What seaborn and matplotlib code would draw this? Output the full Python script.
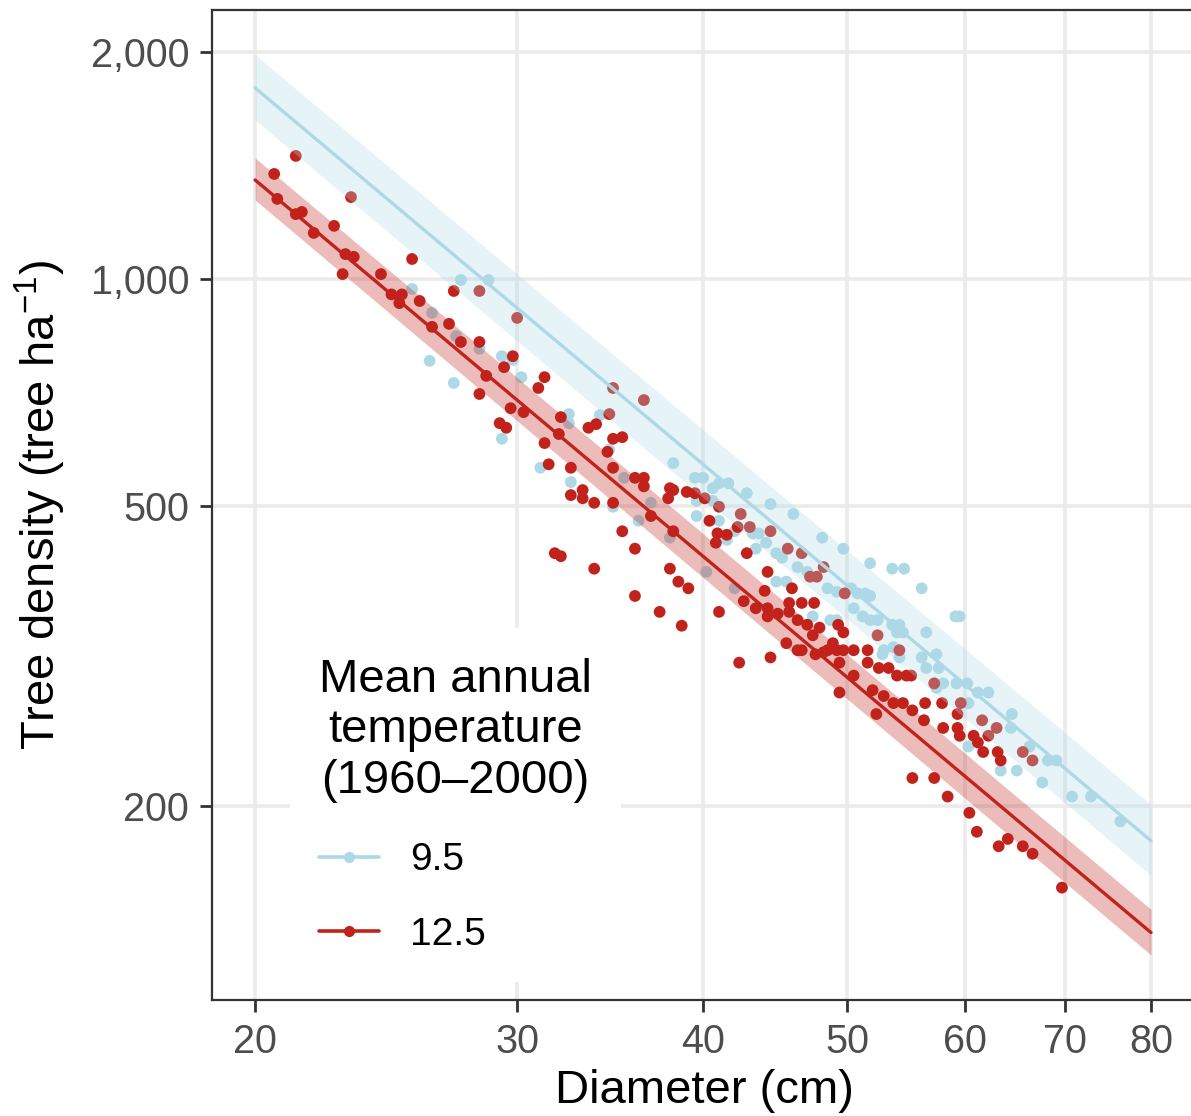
import numpy as np
import pandas as pd
import seaborn as sns
import matplotlib
matplotlib.use("Agg")
import matplotlib.pyplot as plt
from matplotlib.lines import Line2D
from matplotlib.ticker import FixedLocator, NullLocator, FuncFormatter

# ---------------- data ----------------
blue_diam = [25.5, 26.3, 27.5, 28.7, 27.3, 28.3, 26.2, 27.2, 29.3, 29.8, 30.2, 29.3,
             31.1, 32.5, 32.5, 32.6, 34.1, 34.6, 34.8, 35.4, 36.2, 36.9, 38.2, 38.0,
             39.5, 40.0, 39.6, 39.6, 40.6, 41.0, 41.6, 40.6, 41.0, 41.5, 42.0, 42.8,
             43.2, 43.6, 44.1, 44.4, 43.4, 44.8, 45.2, 44.8, 45.5, 40.2, 42.0, 46.0,
             48.1, 49.7, 51.8, 53.6, 54.6, 56.1, 46.3, 47.0, 47.4, 48.5, 49.2, 50.3,
             50.8, 51.4, 51.8, 50.5, 48.7, 49.2, 51.2, 51.8, 52.4, 53.6, 54.2, 54.0,
             54.5, 56.5, 52.9, 54.2, 56.1, 56.5, 57.4, 57.6, 53.7, 52.8, 59.1, 59.5,
             57.4, 58.0, 59.2, 60.2, 61.2, 62.2, 60.3, 60.3, 64.5, 64.4, 66.3, 63.4,
             65.0, 67.6, 68.2, 69.1, 70.8, 72.9, 76.3, 56.3]
blue_dens = [970, 902, 997, 997, 840, 808, 779, 728, 790, 781, 741, 614,
             562, 662, 644, 538, 660, 594, 499, 545, 478, 505, 570, 454,
             545, 545, 508, 485, 528, 536, 536, 508, 478, 451, 463, 520,
             460, 460, 447, 503, 439, 433, 427, 397, 397, 409, 389, 488,
             454, 439, 420, 413, 413, 389, 415, 409, 357, 389, 385, 389,
             383, 383, 380, 366, 353, 353, 357, 353, 353, 348, 348, 340,
             340, 340, 322, 315, 315, 305, 318, 305, 325, 318, 357, 357,
             287, 291, 291, 291, 283, 283, 274, 240, 265, 254, 240, 223,
             223, 215, 230, 230, 206, 206, 191, 260]

red_diam = [20.6, 21.3, 20.7, 21.3, 21.5, 21.9, 22.6, 23.0, 23.3, 22.9, 23.2, 24.3,
            24.7, 25.0, 25.1, 25.5, 25.8, 26.3, 27.0, 27.2, 28.3, 27.5, 28.3, 30.0,
            29.8, 29.4, 28.6, 31.3, 31.0, 28.3, 29.7, 30.3, 29.2, 29.5, 31.3, 31.5,
            32.0, 32.1, 32.6, 32.6, 33.2, 33.2, 33.5, 33.9, 34.6, 34.8, 36.5, 34.5,
            34.8, 35.3, 34.8, 36.0, 36.5, 36.5, 38.0, 38.2, 39.0, 33.8, 34.8, 36.9,
            35.3, 36.0, 31.8, 32.1, 33.8, 36.0, 37.4, 38.7, 38.0, 38.5, 39.1, 37.9,
            38.2, 40.1, 41.0, 40.4, 40.9, 40.8, 42.4, 42.2, 43.0, 44.4, 42.8, 44.2,
            41.0, 42.6, 44.0, 43.4, 44.2, 44.2, 44.9, 39.5, 41.5, 45.6, 46.6, 47.2,
            47.7, 48.2, 45.9, 45.7, 46.6, 47.5, 45.7, 46.3, 47.0, 47.9, 47.4, 49.3,
            49.7, 49.8, 52.4, 54.2, 50.5, 51.6, 45.5, 46.3, 46.6, 47.6, 48.2, 48.5,
            48.9, 49.2, 49.7, 49.4, 51.6, 52.5, 53.3, 54.0, 54.8, 55.2, 57.2, 42.3,
            44.4, 49.4, 50.5, 52.0, 52.9, 53.7, 54.5, 52.3, 55.3, 56.4, 57.9, 56.3,
            58.0, 59.3, 59.5, 60.8, 61.2, 61.7, 61.6, 63.0, 62.2, 63.1, 63.4, 65.6,
            66.6, 59.3, 59.6, 55.3, 57.2, 58.4, 60.4, 61.1, 63.2, 64.1, 65.6, 66.6,
            69.7]
red_dens = [1378, 1456, 1277, 1219, 1227, 1151, 1176, 1079, 1070, 1015, 1284, 1015,
            954, 929, 954, 1063, 935, 864, 872, 964, 964, 825, 825, 888,
            790, 764, 744, 741, 717, 704, 674, 666, 644, 635, 606, 568,
            623, 656, 562, 517, 525, 512, 635, 642, 662, 717, 691, 590,
            614, 617, 562, 545, 545, 531, 528, 525, 522, 505, 505, 485,
            463, 439, 433, 429, 413, 380, 362, 347, 413, 397, 389, 512,
            463, 512, 499, 478, 460, 447, 488, 469, 469, 463, 433, 409,
            362, 374, 386, 366, 366, 357, 360, 520, 458, 439, 433, 403,
            403, 415, 389, 372, 372, 372, 362, 353, 348, 345, 337, 348,
            340, 383, 337, 322, 322, 322, 329, 322, 322, 318, 320, 322,
            329, 322, 322, 310, 310, 305, 305, 298, 298, 298, 291, 310,
            315, 283, 298, 285, 280, 274, 274, 265, 268, 274, 274, 260,
            254, 254, 248, 248, 243, 236, 260, 254, 248, 236, 230, 236,
            230, 265, 274, 218, 218, 206, 196, 185, 177, 181, 177, 173,
            156]

# fitted lines and confidence ribbons (values at the ends of the fit)
fit_diam = [20, 80]
blue_fit = [1792, 180]
blue_lo = [1625, 162]
blue_hi = [1982, 201]
red_fit = [1353, 136]
red_lo = [1273, 127]
red_hi = [1447, 146]

temp_labels = ["9.5", "12.5"]
x_ticks = [20, 30, 40, 50, 60, 70, 80]
y_ticks = [200, 500, 1000, 2000]

BLUE = "#add8e6"
RED = "#c1231c"

# ---------------- figure ----------------
sns.set_theme(style="white")
plt.rcParams["font.family"] = ["Liberation Sans", "DejaVu Sans"]
plt.rcParams["mathtext.fontset"] = "custom"
plt.rcParams["mathtext.rm"] = "Liberation Sans"
plt.rcParams["mathtext.it"] = "Liberation Sans"
plt.rcParams["text.color"] = "black"

fig = plt.figure(figsize=(11.91, 11.16), dpi=100)
ax = fig.add_axes([212 / 1191, 1 - 1000 / 1116, (1197 - 212) / 1191, 990 / 1116])

pts = pd.DataFrame({
    "diam": blue_diam + red_diam,
    "dens": blue_dens + red_dens,
    "temp": [temp_labels[0]] * len(blue_diam) + [temp_labels[1]] * len(red_diam),
})
sns.scatterplot(data=pts, x="diam", y="dens", hue="temp",
                palette={temp_labels[0]: BLUE, temp_labels[1]: RED},
                s=72, linewidth=0, alpha=1, legend=False, ax=ax, zorder=2)

fits = pd.DataFrame({
    "diam": fit_diam * 2,
    "fit": blue_fit + red_fit,
    "lo": blue_lo + red_lo,
    "hi": blue_hi + red_hi,
    "temp": [temp_labels[0]] * 2 + [temp_labels[1]] * 2,
})
for t, c in zip(temp_labels, [BLUE, RED]):
    sub = fits[fits.temp == t]
    ax.fill_between(sub["diam"], sub["lo"], sub["hi"], color=c, alpha=0.3,
                    linewidth=0, zorder=3)
    sns.lineplot(data=sub, x="diam", y="fit", color=c, linewidth=2.4, ax=ax,
                 zorder=4, estimator=None)

ax.set_xscale("log")
ax.set_yscale("log")
ax.set_xlim(18.71, 85.9)
ax.set_ylim(110.7, 2273)

ax.xaxis.set_major_locator(FixedLocator(x_ticks))
ax.yaxis.set_major_locator(FixedLocator(y_ticks))
ax.xaxis.set_minor_locator(NullLocator())
ax.yaxis.set_minor_locator(NullLocator())
ax.xaxis.set_major_formatter(FuncFormatter(lambda v, p: f"{v:g}"))
ax.yaxis.set_major_formatter(FuncFormatter(lambda v, p: f"{int(round(v)):,}"))

ax.grid(True, which="major", color="#ebebeb", linewidth=2.6, zorder=0)
ax.set_axisbelow(True)
for s in ax.spines.values():
    s.set_visible(True)
    s.set_color("#333333")
    s.set_linewidth(1.6)

ax.tick_params(axis="both", which="major", direction="out", length=8.5, width=2,
               color="#333333", labelcolor="#4d4d4d", labelsize=28.5, pad=8,
               left=True, bottom=True)

ax.set_xlabel("Diameter (cm)", fontsize=34, color="black", labelpad=6)
ax.set_ylabel("Tree density (tree ha$^{-1}$)", fontsize=34, color="black", labelpad=16)

handles = [Line2D([0], [0], color=BLUE, lw=2.6, marker="o", markersize=7),
           Line2D([0], [0], color=RED, lw=2.6, marker="o", markersize=7)]
leg = ax.legend(handles, temp_labels,
                title="Mean annual\ntemperature\n(1960\u20132000)",
                loc="lower left", bbox_to_anchor=(0.079, 0.018),
                borderaxespad=0, frameon=True, facecolor="white",
                edgecolor="none", framealpha=1, fontsize=28,
                title_fontsize=34, handlelength=1.55, handletextpad=0.8,
                labelspacing=1.0, borderpad=0.75, alignment="left")
leg.get_title().set_multialignment("center")
leg.get_title().set_color("black")
for txt in leg.get_texts():
    txt.set_color("black")
leg.set_zorder(5)

fig.savefig("out.png", dpi=100)
